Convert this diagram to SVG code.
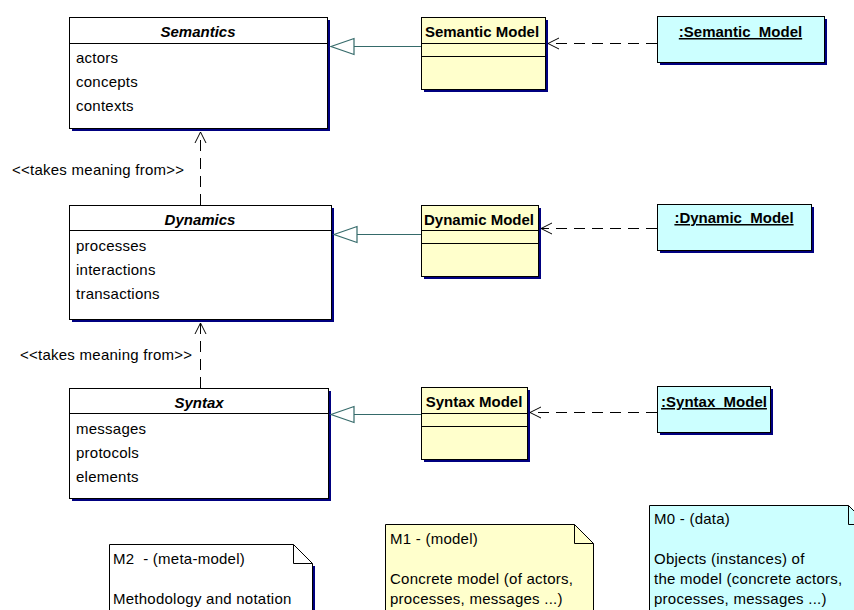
<svg xmlns="http://www.w3.org/2000/svg" width="854" height="610" viewBox="0 0 854 610">
  <style>
    text { font-family: "Liberation Sans", Arial, sans-serif; font-size: 15px; fill: #000; letter-spacing: 0.25px; }
    .title { font-weight: bold; font-style: italic; text-anchor: middle; letter-spacing: 0; }
    .cls { font-weight: bold; text-anchor: middle; letter-spacing: 0; }
    .obj { font-weight: bold; text-decoration: underline; text-anchor: middle; letter-spacing: 0; }
    .box { fill: #ffffff; stroke: #000; stroke-width: 1; }
    .model { fill: #ffffcc; stroke: #000; stroke-width: 1; }
    .inst { fill: #ccffff; stroke: #000; stroke-width: 1; }
    .shadow { fill: #000080; }
    .div { stroke: #000; stroke-width: 1; }
    .gen { stroke: #356a6a; stroke-width: 1.2; fill: none; }
    .genhead { stroke: #356a6a; stroke-width: 1.2; fill: #ffffff; }
    .dep { stroke: #000; stroke-width: 1; stroke-dasharray: 11 7; fill: none; }
    .open { stroke: #000; stroke-width: 1; fill: none; }
  </style>

  <!-- Meta-model classes -->
  <g id="semantics">
    <rect class="shadow" x="72" y="20" width="258" height="111"/>
    <rect class="box" x="69.5" y="17.5" width="258" height="111"/>
    <line class="div" x1="69.5" y1="43.5" x2="327.5" y2="43.5"/>
    <text class="title" x="198" y="37">Semantics</text>
    <text x="76" y="63">actors</text>
    <text x="76" y="87">concepts</text>
    <text x="76" y="111">contexts</text>
  </g>

  <g id="dynamics">
    <rect class="shadow" x="72" y="208" width="262" height="114"/>
    <rect class="box" x="69.5" y="205.5" width="262" height="114"/>
    <line class="div" x1="69.5" y1="230.5" x2="331.5" y2="230.5"/>
    <text class="title" x="200" y="225">Dynamics</text>
    <text x="76" y="251">processes</text>
    <text x="76" y="275">interactions</text>
    <text x="76" y="299">transactions</text>
  </g>

  <g id="syntax">
    <rect class="shadow" x="72" y="391" width="259" height="110"/>
    <rect class="box" x="69.5" y="388.5" width="259" height="110"/>
    <line class="div" x1="69.5" y1="413.5" x2="328.5" y2="413.5"/>
    <text class="title" x="199" y="408">Syntax</text>
    <text x="76" y="434">messages</text>
    <text x="76" y="458">protocols</text>
    <text x="76" y="482">elements</text>
  </g>

  <!-- Model classes -->
  <g id="semantic-model">
    <rect class="shadow" x="424" y="20" width="124" height="72"/>
    <rect class="model" x="421.5" y="17.5" width="124" height="72"/>
    <line class="div" x1="421.5" y1="43.5" x2="545.5" y2="43.5"/>
    <line class="div" x1="421.5" y1="56.5" x2="545.5" y2="56.5"/>
    <text class="cls" x="482" y="37">Semantic Model</text>
  </g>

  <g id="dynamic-model">
    <rect class="shadow" x="424" y="208" width="117" height="71"/>
    <rect class="model" x="421.5" y="205.5" width="117" height="71"/>
    <line class="div" x1="421.5" y1="230.5" x2="538.5" y2="230.5"/>
    <line class="div" x1="421.5" y1="243.5" x2="538.5" y2="243.5"/>
    <text class="cls" x="479" y="225">Dynamic Model</text>
  </g>

  <g id="syntax-model">
    <rect class="shadow" x="424" y="390" width="106" height="72"/>
    <rect class="model" x="421.5" y="387.5" width="106" height="72"/>
    <line class="div" x1="421.5" y1="413.5" x2="527.5" y2="413.5"/>
    <line class="div" x1="421.5" y1="426.5" x2="527.5" y2="426.5"/>
    <text class="cls" x="474" y="407">Syntax Model</text>
  </g>

  <!-- Instances -->
  <g id="semantic-instance">
    <rect class="shadow" x="660" y="19" width="167" height="46"/>
    <rect class="inst" x="657.5" y="16.5" width="167" height="46"/>
    <text class="obj" x="740.5" y="37" xml:space="preserve">:Semantic  Model</text>
  </g>

  <g id="dynamic-instance">
    <rect class="shadow" x="660" y="207" width="154" height="46"/>
    <rect class="inst" x="657.5" y="204.5" width="154" height="46"/>
    <text class="obj" x="734" y="223" xml:space="preserve">:Dynamic  Model</text>
  </g>

  <g id="syntax-instance">
    <rect class="shadow" x="660" y="389" width="113" height="46"/>
    <rect class="inst" x="657.5" y="386.5" width="113" height="46"/>
    <text class="obj" x="714" y="407" xml:space="preserve">:Syntax  Model</text>
  </g>

  <!-- Connectors -->
  <g id="connectors">
    <!-- generalizations -->
    <line class="gen" x1="354" y1="46.5" x2="421" y2="46.5"/>
    <polygon class="genhead" points="331,46.5 354,38.5 354,54.5"/>
    <line class="gen" x1="357" y1="234.5" x2="421" y2="234.5"/>
    <polygon class="genhead" points="334,234.5 357,226.5 357,242.5"/>
    <line class="gen" x1="354" y1="414.5" x2="421" y2="414.5"/>
    <polygon class="genhead" points="331,414.5 354,406.5 354,422.5"/>

    <!-- instance-of dependencies -->
    <line class="dep" x1="657" y1="43.5" x2="548" y2="43.5"/>
    <polyline class="open" points="559,38 548,43.5 559,49"/>
    <line class="dep" x1="657" y1="228.5" x2="541" y2="228.5"/>
    <polyline class="open" points="552,223 541,228.5 552,234"/>
    <line class="dep" x1="657" y1="412.5" x2="530" y2="412.5"/>
    <polyline class="open" points="541,407 530,412.5 541,418"/>

    <!-- takes meaning from -->
    <line class="dep" x1="200.5" y1="205" x2="200.5" y2="132"/>
    <polyline class="open" points="195,143 200.5,132 206,143"/>
    <text x="12" y="175">&lt;&lt;takes meaning from&gt;&gt;</text>
    <line class="dep" x1="200.5" y1="388" x2="200.5" y2="323"/>
    <polyline class="open" points="195,334 200.5,323 206,334"/>
    <text x="20" y="360">&lt;&lt;takes meaning from&gt;&gt;</text>
  </g>

  <!-- Level notes -->
  <g id="note-m2">
    <rect class="shadow" x="312" y="566" width="3" height="50"/>
    <path d="M109.5,544.5 H293.5 L312.5,563.5 V615 H109.5 Z" fill="#ffffff" stroke="#000"/>
    <path d="M293.5,544.5 V563.5 H312.5" fill="none" stroke="#000"/>
    <text x="113" y="564" xml:space="preserve">M2  - (meta-model)</text>
    <text x="113" y="604">Methodology and notation</text>
  </g>

  <g id="note-m1">
    <path d="M385.5,524.5 H574.5 L593.5,543.5 V615 H385.5 Z" fill="#ffffcc" stroke="#000"/>
    <path d="M574.5,524.5 V543.5 H593.5" fill="none" stroke="#000"/>
    <text x="390" y="544">M1 - (model)</text>
    <text x="390" y="584">Concrete model (of actors,</text>
    <text x="390" y="604">processes, messages ...)</text>
  </g>

  <g id="note-m0">
    <path d="M649.5,505.5 H848.5 L867.5,524.5 V615 H649.5 Z" fill="#ccffff" stroke="#000"/>
    <path d="M848.5,505.5 V524.5 H867.5" fill="none" stroke="#000"/>
    <text x="654" y="524">M0 - (data)</text>
    <text x="654" y="564">Objects (instances) of</text>
    <text x="654" y="584">the model (concrete actors,</text>
    <text x="654" y="604">processes, messages ...)</text>
  </g>
</svg>
